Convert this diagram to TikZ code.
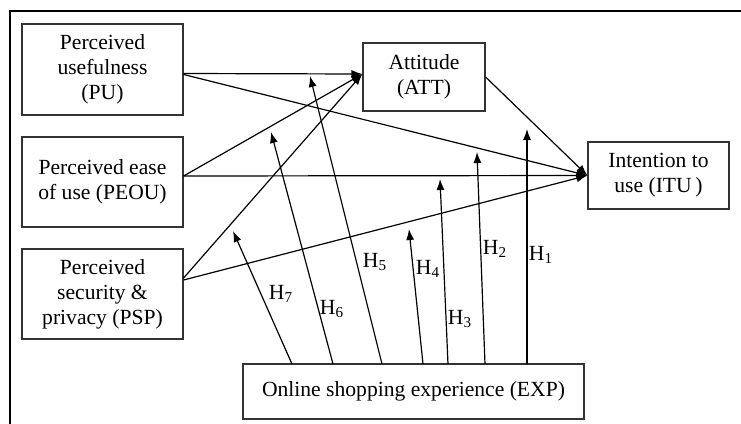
\documentclass[tikz,border=0pt]{standalone}
\usepackage{fontspec}
\setmainfont{Liberation Serif}
\usetikzlibrary{arrows.meta,positioning,calc}
\tikzstyle{construct} = [draw=black!80,line width=0.6pt,align=center,inner sep=2pt,font=\fontsize{10.8}{12.5}\selectfont]
\tikzstyle{hyp} = [font=\fontsize{10.8}{12.5}\selectfont,inner sep=0pt]
\tikzset{>={Latex[length=5.5pt,width=4pt]}}

\begin{document}
\begin{tikzpicture}[x=0.5pt,y=-0.5pt,line width=0.6pt]
    \useasboundingbox (0,0) rectangle (741,424);
    \draw [line width=0.8pt] (10,424) -- (10,11) -- (741,11);
    % constructs
    \node [construct,minimum width=80.5pt,minimum height=45.5pt] (pu) at (102.5,69.5) {Perceived\\usefulness\\(PU)};
    \node [construct,minimum width=80.5pt,minimum height=45pt] (peou) at (102.5,182) {Perceived ease\\of use (PEOU)};
    \node [construct,minimum width=80.5pt,minimum height=45pt] (psp) at (102.5,294) {Perceived\\security \&\\privacy (PSP)};
    \node [construct,minimum width=61pt,minimum height=34pt] (att) at (424,77) {Attitude\\(ATT)};
    \node [construct,minimum width=70.5pt,minimum height=33.5pt] (itu) at (658.5,175.5) {Intention to\\use (ITU\,)};
    \node [construct,minimum width=170.5pt,minimum height=27.5pt] (exp) at (413.5,391.5) {Online shopping experience (EXP)};
    % direct paths
    \coordinate (attin) at ([yshift=1.5pt]att.west);
    \draw [->] ([yshift=-2pt]pu.east) -- (attin);
    \draw [->] ([yshift=-2.5pt]pu.east) -- (itu.west);
    \draw [->] ([yshift=3pt]peou.east) -- (attin);
    \draw [->] ([yshift=3pt]peou.east) -- (itu.west);
    \draw [->] ([yshift=8pt]psp.east) -- (attin);
    \draw [->] ([yshift=7pt]psp.east) -- (itu.west);
    \draw [->] (att.east) -- (itu.west);
    % moderating paths from EXP
    \coordinate (s1) at (527,364); \coordinate (t1) at (527,129);
    \coordinate (s2) at (485,364); \coordinate (t2) at (477,152);
    \coordinate (s3) at (448,364); \coordinate (t3) at (440,179);
    \coordinate (s4) at (423,364); \coordinate (t4) at (409,229);
    \coordinate (s5) at (382,364); \coordinate (t5) at (310,76);
    \coordinate (s6) at (333,364); \coordinate (t6) at (271,132);
    \coordinate (s7) at (292,364); \coordinate (t7) at (233,231);
    \draw [->] (s1) -- (t1);
    \draw [->] (s2) -- (t2);
    \draw [->] (s3) -- (t3);
    \draw [->] (s4) -- (t4);
    \draw [->] (s5) -- (t5);
    \draw [->] (s6) -- (t6);
    \draw [->] (s7) -- (t7);
    \node [hyp] (h1) at (541,255) {H\textsubscript{1}};
    \node [hyp] (h2) at (495,249) {H\textsubscript{2}};
    \node [hyp] (h3) at (460,319) {H\textsubscript{3}};
    \node [hyp] (h4) at (428,269) {H\textsubscript{4}};
    \node [hyp] (h5) at (375,262) {H\textsubscript{5}};
    \node [hyp] (h6) at (332,309) {H\textsubscript{6}};
    \node [hyp] (h7) at (281,294) {H\textsubscript{7}};
\end{tikzpicture}
\end{document}
